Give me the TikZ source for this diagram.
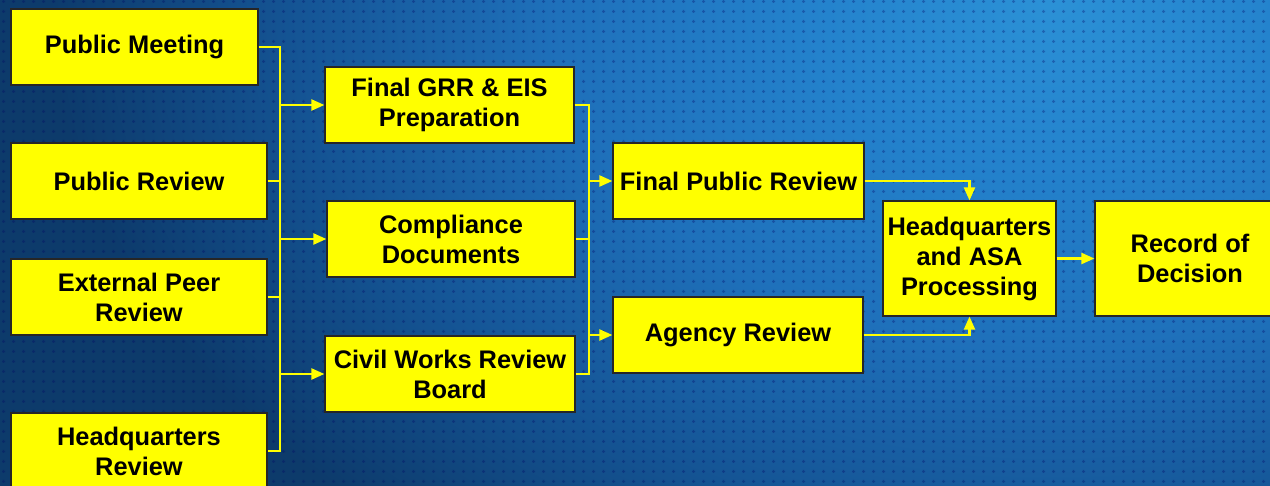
\documentclass[tikz,border=0pt]{standalone}
\usepackage{fontspec}
\setmainfont{Liberation Sans}
\usetikzlibrary{arrows.meta,patterns.meta}
\tikzdeclarepattern{name=bgdots, type=uncolored,
  bounding box={(0pt,0pt) and (10pt,10pt)}, tile size={(10pt,10pt)},
  code={\fill (3.3pt,4.3pt) rectangle (6.7pt,5.7pt);
        \fill (4.3pt,3.3pt) rectangle (5.7pt,6.7pt);}}
\definecolor{bgdark}{rgb}{0.05,0.23,0.42}
\definecolor{boxyellow}{RGB}{255,255,0}
\pgfdeclareradialshading{bgshade}{\pgfpoint{0bp}{0bp}}{%
  rgb(0bp)=(0.17,0.57,0.84);
  rgb(6bp)=(0.14,0.51,0.80);
  rgb(12.5bp)=(0.12,0.44,0.73);
  rgb(19bp)=(0.08,0.33,0.58);
  rgb(25bp)=(0.05,0.23,0.42);
  rgb(50bp)=(0.05,0.23,0.42)}
\tikzset{
  box/.style={draw=black!85, line width=1.2pt, fill=boxyellow, minimum height=76pt,
    inner sep=0pt, align=center, text=black,
    font=\bfseries\fontsize{25.4}{30}\selectfont},
  conn/.style={draw=boxyellow, line width=2.2pt},
  arr/.style={conn, -{Triangle[length=13pt,width=11pt]}},
}
\begin{document}
\begin{tikzpicture}[x=1pt,y=-1pt]
\useasboundingbox (0,0) rectangle (1270,486);
\begin{scope}
\clip (0,0) rectangle (1270,486);
\fill[bgdark] (0,0) rectangle (1270,486);
\shade[shading=bgshade] (1050,0) ellipse [x radius=1000pt, y radius=700pt];
\fill[pattern=bgdots, pattern color=black!60!blue, opacity=0.3] (0,0) rectangle (1270,486);

\node[box, minimum width=247pt] (pm)   at (134.5,47)  {Public Meeting};
\node[box, minimum width=256pt] (pr)   at (139,181)   {Public Review};
\node[box, minimum width=256pt] (epr)  at (139,297)   {External Peer\\Review};
\node[box, minimum width=256pt] (hqr)  at (139,451)   {Headquarters\\Review};
\node[box, minimum width=249pt] (fgrr) at (449.5,105) {Final GRR \& EIS\\Preparation};
\node[box, minimum width=248pt] (cd)   at (451,239)   {Compliance\\Documents};
\node[box, minimum width=250pt] (cw)   at (450,374)   {Civil Works Review\\Board};
\node[box, minimum width=251pt] (fpr)  at (738.5,181) {Final Public Review};
\node[box, minimum width=250pt] (ar)   at (738,335)   {Agency Review};
\node[box, minimum width=173pt, minimum height=115pt] (hq) at (969.5,258.5) {Headquarters\\and ASA\\Processing};
\node[box, minimum width=190pt, minimum height=115pt] (rod) at (1190,258.5) {Record of\\Decision};

\coordinate (bl) at (280,0);
\draw[conn] (pm.east) -- (pm.east -| bl) -- (hqr.east -| bl) -- (hqr.east);
\draw[conn] (pr.east) -- (pr.east -| bl);
\draw[conn] (epr.east) -- (epr.east -| bl);
\draw[arr] (fgrr.west -| bl) -- (fgrr.west);
\draw[arr] (cd.west -| bl) -- (cd.west);
\draw[arr] (cw.west -| bl) -- (cw.west);

\coordinate (bm) at (589,0);
\draw[conn] (fgrr.east) -- (fgrr.east -| bm) -- (cw.east -| bm) -- (cw.east);
\draw[conn] (cd.east) -- (cd.east -| bm);
\draw[arr] (fpr.west -| bm) -- (fpr.west);
\draw[arr] (ar.west -| bm) -- (ar.west);

\draw[arr] (fpr.east) -| (hq.north);
\draw[arr] (ar.east) -| (hq.south);
\draw[arr] (hq.east) -- (rod.west);
\end{scope}
\end{tikzpicture}
\end{document}
